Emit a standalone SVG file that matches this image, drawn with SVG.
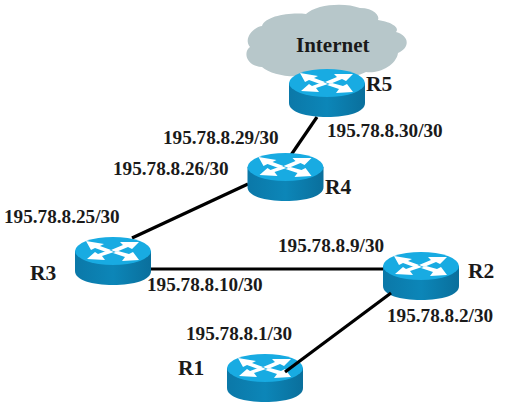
<svg xmlns="http://www.w3.org/2000/svg" width="510" height="411" viewBox="0 0 510 411">
<style>
text{font-family:"Liberation Serif","Times New Roman",serif;font-weight:bold;fill:#1a1a1a}
.ip{font-size:19.2px}
.nm{font-size:21.5px}
.c{stroke:#000;stroke-width:3.2;fill:none}
</style>
<defs>
<linearGradient id="body" x1="0" x2="1" y1="0" y2="0">
<stop offset="0" stop-color="#0b78a8"/><stop offset="0.5" stop-color="#0c86b8"/><stop offset="1" stop-color="#0a6f9c"/>
</linearGradient>
<g id="router">
<path d="M-38 0V20C-38 29-21 34 0 34S38 29 38 20V0Z" fill="url(#body)"/>
<ellipse cx="0" cy="0" rx="38" ry="14" fill="#18abe2"/>
<g fill="#fff">
<path d="M-27-10L-9-7-13-5-2-1-7 1-18-3-22-1Z"/>
<path d="M26-9L7-9 10-6-2-1 3 1 15-4 19-2Z"/>
<path d="M-26 8L-8 9-11 5 1 1-4-1-15 3-18 1Z"/>
<path d="M26 9L9 10 12 6 0 2 5 0 16 3 20 1Z"/>
</g>
</g>
</defs>
<g id="cloud"><path d="M262 67C246 66 243 52 250 47C243 38 254 27 262 26C265 16 290 12 306 14C316 4 345 2 360 8C374 8 380 16 378 20C392 22 400 28 396 32C410 36 410 48 398 53C396 66 378 74 366 72C350 80 325 78 316 72C300 80 272 76 262 67Z" fill="#b7c7ca"/></g>
<g id="connectors">
<line class="c" x1="317" y1="117" x2="291" y2="155"/>
<line class="c" x1="248" y1="184" x2="132" y2="238"/>
<line class="c" x1="148" y1="269" x2="386" y2="269"/>
</g>
<g id="R5"><use href="#router" x="327" y="83"/><text class="nm" x="366" y="91">R5</text></g>
<g id="R4"><use href="#router" x="285.5" y="167"/><text class="nm" x="325" y="194">R4</text></g>
<g id="R3"><use href="#router" x="113" y="251"/><text class="nm" x="30" y="280">R3</text></g>
<g id="R2"><use href="#router" x="421" y="266"/><text class="nm" x="468" y="278">R2</text></g>
<g id="R1"><use href="#router" x="265" y="368"/><text class="nm" x="178" y="375">R1</text></g>
<line class="c" x1="391" y1="293" x2="285" y2="372"/>
<text x="296" y="52" font-size="21">Internet</text>
<g class="ip-labels">
<text class="ip" x="163" y="144">195.78.8.29/30</text>
<text class="ip" x="327" y="137">195.78.8.30/30</text>
<text class="ip" x="113" y="175">195.78.8.26/30</text>
<text class="ip" x="4" y="223">195.78.8.25/30</text>
<text class="ip" x="278" y="252">195.78.8.9/30</text>
<text class="ip" x="147" y="291">195.78.8.10/30</text>
<text class="ip" x="387" y="322">195.78.8.2/30</text>
<text class="ip" x="186" y="340">195.78.8.1/30</text>
</g>
</svg>
